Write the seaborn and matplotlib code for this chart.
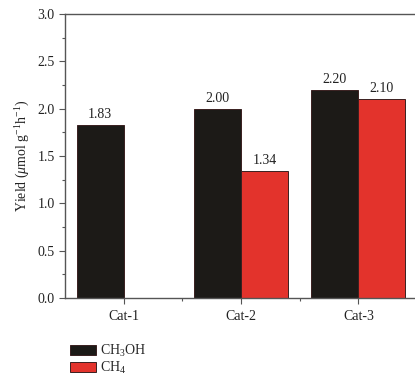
import matplotlib
matplotlib.use("Agg")
import matplotlib.pyplot as plt
from matplotlib.ticker import MultipleLocator, FormatStrFormatter
import numpy as np
import pandas as pd
import seaborn as sns

# Product yields per catalyst (µmol g^-1 h^-1); Cat-1 gives no CH4
categories = ["Cat-1", "Cat-2", "Cat-3"]
ch3oh = [1.83, 2.00, 2.20]
ch4 = [np.nan, 1.34, 2.10]
products = ["CH$_3$OH", "CH$_4$"]
colors = ["#1c1a17", "#e3332c"]

df = pd.DataFrame({
    "Catalyst": categories * 2,
    "Yield": ch3oh + ch4,
    "Product": [products[0]] * 3 + [products[1]] * 3,
})

sns.set_style("ticks")
plt.rcParams["font.family"] = ["Liberation Serif", "DejaVu Serif"]
plt.rcParams["mathtext.fontset"] = "custom"
plt.rcParams["mathtext.rm"] = "Liberation Serif"
plt.rcParams["mathtext.it"] = "Liberation Serif:italic"
plt.rcParams["mathtext.bf"] = "Liberation Serif:bold"

fig = plt.figure(figsize=(4.15, 3.79), dpi=100)
ax = fig.add_axes([65 / 415, 81 / 379, 352 / 415, 284 / 379])

sns.barplot(data=df, x="Catalyst", y="Yield", hue="Product",
            hue_order=products, palette=colors, width=0.8,
            edgecolor="#3a2020", linewidth=0.7, saturation=1,
            ax=ax, legend=True)

for cont in ax.containers:
    ax.bar_label(cont, fmt="%.2f", padding=3, fontsize=10, color="#222222")

ax.set_xlim(-0.5, 2.5)
ax.set_ylim(0, 3.0)
ax.yaxis.set_major_locator(MultipleLocator(0.5))
ax.yaxis.set_minor_locator(MultipleLocator(0.25))
ax.set_xticks([0, 1, 2])
ax.set_xticks([0.5, 1.5], minor=True)
ax.yaxis.set_major_formatter(FormatStrFormatter("%.1f"))

ax.set_xlabel("")
ax.set_ylabel(r"Yield ($\mu$mol g$^{-1}$h$^{-1}$)", fontsize=10, color="#222222")

for side in ["left", "bottom", "top"]:
    ax.spines[side].set_color("#555555")
    ax.spines[side].set_linewidth(1.0)
ax.spines["right"].set_visible(False)
ax.tick_params(axis="both", which="major", direction="out", length=4,
               width=0.8, color="#555555", labelsize=10, labelcolor="#222222")
ax.tick_params(axis="both", which="minor", direction="out", length=2,
               width=0.8, color="#555555")
ax.tick_params(axis="x", which="major", pad=5)

ax.legend(loc="upper left", bbox_to_anchor=(60 / 415, 1 - 333 / 379),
          bbox_transform=fig.transFigure, frameon=False, fontsize=10,
          handlelength=1.9, handleheight=0.75, labelspacing=0.1,
          handletextpad=0.3, borderpad=0.2)

fig.savefig("out.png", dpi=100)
